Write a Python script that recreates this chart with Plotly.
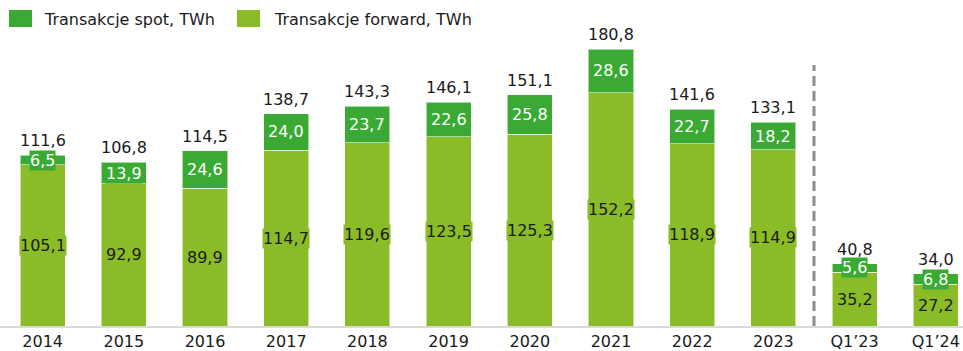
import plotly.graph_objects as go

# Polish energy exchange volumes, TWh
categories = ["2014", "2015", "2016", "2017", "2018", "2019", "2020", "2021",
              "2022", "2023", "Q1\u201923", "Q1\u201924"]
forward = [105.1, 92.9, 89.9, 114.7, 119.6, 123.5, 125.3, 152.2, 118.9, 114.9, 35.2, 27.2]
spot = [6.5, 13.9, 24.6, 24.0, 23.7, 22.6, 25.8, 28.6, 22.7, 18.2, 5.6, 6.8]
series_names = ["Transakcje spot, TWh", "Transakcje forward, TWh"]

SPOT_COLOR = "#3aaa35"
FWD_COLOR = "#8abc27"
FONT = "Verdana, DejaVu Sans, sans-serif"
TEXT = "#1a1a1a"
FS = 16


def fmt(v):
    return f"{v:.1f}".replace(".", ",")


x_idx = list(range(len(categories)))

fig = go.Figure()
fig.add_bar(x=x_idx, y=forward, name=series_names[1], marker_color=FWD_COLOR,
            marker_line=dict(color="rgba(255,255,255,0.55)", width=1), showlegend=False)
fig.add_bar(x=x_idx, y=spot, name=series_names[0], marker_color=SPOT_COLOR,
            marker_line=dict(color="rgba(255,255,255,0.55)", width=1), showlegend=False)

annotations = []
for i, (f, s) in enumerate(zip(forward, spot)):
    total = round(f + s, 1)
    # forward value in the middle of the lower segment
    annotations.append(dict(x=i, y=f / 2, text=fmt(f), showarrow=False,
                            font=dict(family=FONT, size=FS, color=TEXT),
                            bgcolor=FWD_COLOR, borderpad=0))
    # spot value in the middle of the upper segment
    annotations.append(dict(x=i, y=f + s / 2, text=fmt(s), showarrow=False,
                            font=dict(family=FONT, size=FS, color="white"),
                            bgcolor=SPOT_COLOR, borderpad=0))
    # total above the stack
    annotations.append(dict(x=i, y=total, text=fmt(total), showarrow=False,
                            yanchor="bottom", yshift=3,
                            font=dict(family=FONT, size=FS, color=TEXT)))

# legend drawn as swatches with captions
legend_items = [(series_names[0], SPOT_COLOR, 9, 42), (series_names[1], FWD_COLOR, 237, 272)]
shapes = []
W = 963
PH = 326
for name, color, sx, tx in legend_items:
    shapes.append(dict(type="rect", xref="paper", yref="paper",
                       x0=sx / W, x1=(sx + 23) / W,
                       y0=(PH - 27) / PH, y1=(PH - 10) / PH,
                       fillcolor=color, line=dict(width=0)))
    annotations.append(dict(xref="paper", yref="paper", x=tx / W, y=(PH - 20) / PH,
                            xanchor="left", yanchor="middle", text=name, showarrow=False,
                            font=dict(family=FONT, size=FS, color=TEXT)))

# divider between yearly and quarterly data
shapes.append(dict(type="line", xref="x", yref="paper", x0=9.5, x1=9.5,
                   y0=0, y1=(PH - 65) / PH,
                   line=dict(color="#8c8c8c", width=3, dash="10px,5px")))

fig.update_layout(
    barmode="stack",
    bargap=0.445,
    width=963, height=351,
    margin=dict(l=0, r=0, t=0, b=25),
    plot_bgcolor="white", paper_bgcolor="white",
    annotations=annotations,
    shapes=shapes,
    xaxis=dict(tickmode="array", tickvals=x_idx, ticktext=categories,
               range=[-0.525, 11.335], showgrid=False, zeroline=False,
               showline=True, linecolor="#d9d9d9", linewidth=1.5,
               ticks="", tickfont=dict(family=FONT, size=FS, color=TEXT)),
    yaxis=dict(range=[0, 212.8], visible=False),
)

fig.write_html("out.html")
